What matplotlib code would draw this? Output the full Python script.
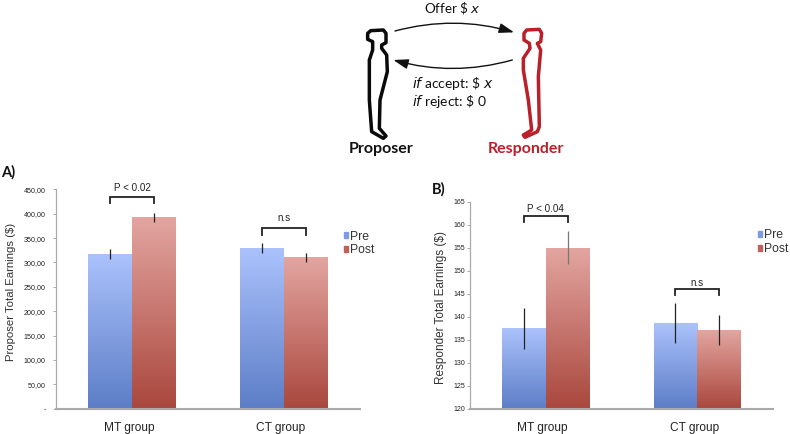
import numpy as np
import matplotlib
matplotlib.use("Agg")
import matplotlib.pyplot as plt
from matplotlib.colors import LinearSegmentedColormap
from matplotlib.patches import FancyArrowPatch, Patch, Polygon

groups = ["MT group", "CT group"]
series = ["Pre", "Post"]
proposer_pre = [317, 329]
proposer_post = [392, 310]
proposer_pre_err = [10, 10]
proposer_post_err = [9, 10]
responder_pre = [137.4, 138.6]
responder_post = [155.0, 137.1]
responder_pre_err = [4.5, 4.3]
responder_post_err = [3.6, 3.3]
proposer_ticks = list(range(0, 451, 50))
proposer_ticklabels = ["-"] + [f"{v},00" for v in proposer_ticks[1:]]
responder_ticks = list(range(120, 166, 5))

W, H = 790, 434
BAR = 0.2875
PRE = ("#ABC2FC", "#5C7DC6")
POST = ("#E3A5A0", "#A9473D")
SANS = "Liberation Sans"
HUM = "Lato"
plt.rcParams["font.family"] = SANS

fig = plt.figure(figsize=(W / 100, H / 100), dpi=100, facecolor="white")


def make_axes(x0, x1, ytop, ybot):
    return fig.add_axes([x0 / W, 1 - ybot / H, (x1 - x0) / W, (ybot - ytop) / H])


def gradient_bars(ax, xs, vals, base, cols):
    cmap = LinearSegmentedColormap.from_list("g", [cols[0], cols[1]])
    grad = np.linspace(0, 1, 256).reshape(-1, 1)
    for b in ax.bar(xs, np.array(vals) - base, BAR, bottom=base, color="none", linewidth=0):
        x, y = b.get_xy()
        ax.imshow(grad, cmap=cmap, aspect="auto", zorder=2,
                  extent=(x, x + b.get_width(), y, y + b.get_height()))


def panel(ax, pre, post, pre_err, post_err, ymin, ymax, ticks, ticklabels, ylabel, label_xy,
          ylabel_size, brackets, tick_size, tick_pad, post_err_colors):
    x = np.arange(len(groups), dtype=float)
    gradient_bars(ax, x - BAR / 2, pre, ymin, PRE)
    gradient_bars(ax, x + BAR / 2, post, ymin, POST)
    ax.errorbar(x - BAR / 2, pre, yerr=pre_err, fmt="none", ecolor="#222222", elinewidth=0.9, zorder=3)
    for xi, v, e, c in zip(x + BAR / 2, post, post_err, post_err_colors):
        ax.errorbar([xi], [v], yerr=[e], fmt="none", ecolor=c, elinewidth=0.9, zorder=3)
    ax.set_xlim(-0.5, 1.5)
    ax.set_ylim(ymin, ymax)
    ax.set_xticks(x - 0.02, groups)
    ax.set_yticks(ticks, ticklabels)
    ax.tick_params(axis="x", length=0, labelsize=8.6, pad=9.5, labelcolor="#222222")
    ax.tick_params(axis="y", length=2, width=0.7, color="#aaaaaa", labelsize=tick_size,
                   pad=tick_pad, labelcolor="#222222")
    ax.set_ylabel(ylabel, fontsize=ylabel_size, color="#333333")
    ax.yaxis.set_label_coords(*label_xy)
    for s in ("top", "right"):
        ax.spines[s].set_visible(False)
    ax.spines["left"].set_color("#aaaaaa")
    ax.spines["left"].set_linewidth(0.9)
    ax.spines["bottom"].set_color("#aaaaaa")
    ax.spines["bottom"].set_linewidth(1.5)
    for i, (top, bot, label, label_y) in enumerate(brackets):
        l, r = x[i] - BAR / 2, x[i] + BAR / 2
        ax.plot([l, l, r, r], [bot, top, top, bot], color="#222222", lw=1.3,
                clip_on=False, zorder=4, solid_joinstyle="miter")
        ax.text(x[i], label_y, label, ha="center", va="center", fontsize=7.1,
                color="#222222", clip_on=False)


ax_a = make_axes(56, 360, 189.3, 408.7)
panel(ax_a, proposer_pre, proposer_post, proposer_pre_err, proposer_post_err,
      0, 450, proposer_ticks, proposer_ticklabels, "Proposer Total Earnings ($)",
      (-0.132, 0.53), 8.2,
      [(433.5, 422, "P < 0.02", 453), (370.6, 356, "n.s", 391)], 5.1, 5.5, ["#222222"] * 2)

ax_b = make_axes(470, 773, 201.7, 408.7)
panel(ax_b, responder_pre, responder_post, responder_pre_err, responder_post_err,
      120, 165, responder_ticks, [str(v) for v in responder_ticks],
      "Responder Total Earnings ($)", (-0.0756, 0.489), 8.5,
      [(162.0, 160.65, "P < 0.04", 163.4), (146.1, 144.7, "n.s", 147.4)], 5.0, 1.5,
      ["#777777", "#222222"])

# Overlay in pixel coordinates for the schematic, panel letters and legends
ov = fig.add_axes([0, 0, 1, 1], facecolor="none")
ov.set_xlim(0, W)
ov.set_ylim(H, 0)
ov.axis("off")


def z(points):
    return [(330 + a / 3, b / 3) for a, b in points]


proposer_shape = [(122, 92), (160, 90), (168, 100), (168, 128), (155, 135), (155, 145), (170, 165),
                  (172, 215), (150, 300), (148, 385), (168, 408), (160, 415), (125, 395),
                  (118, 300), (118, 180), (128, 150), (128, 125), (113, 118), (113, 100)]
responder_shape = [(590, 90), (628, 88), (635, 100), (632, 125), (622, 130), (632, 150), (625, 230),
                   (628, 380), (622, 395), (585, 412), (580, 405), (605, 390), (595, 300),
                   (580, 210), (580, 175), (600, 145), (598, 130), (582, 120), (582, 100)]
ov.add_patch(Polygon(z(proposer_shape), closed=True, fill=False, ec="#0a0a0a", lw=2.5, joinstyle="round"))
ov.add_patch(Polygon(z(responder_shape), closed=True, fill=False, ec="#B9202A", lw=2.5, joinstyle="round"))

head = "-|>,head_length=9,head_width=3"
ov.add_patch(FancyArrowPatch(z([(195, 93)])[0], z([(552, 97)])[0], connectionstyle="arc3,rad=-0.14",
                             arrowstyle=head, color="#111111", lw=1, shrinkA=0, shrinkB=0))
ov.add_patch(FancyArrowPatch(z([(547, 180)])[0], z([(190, 180)])[0], connectionstyle="arc3,rad=-0.14",
                             arrowstyle=head, color="#111111", lw=1, shrinkA=0, shrinkB=0))

tk = dict(family=HUM, color="#111111", va="center")
ov.text(424, 8.5, "Offer \\$ $\\mathit{x}$", ha="left", fontsize=9.6, **tk)
ov.text(412.5, 83, "$\\mathit{if}$ accept: \\$ $\\mathit{x}$", ha="left", fontsize=10, **tk)
ov.text(412.5, 102, "$\\mathit{if}$ reject: \\$ 0", ha="left", fontsize=10, **tk)
ov.text(381, 148.5, "Proposer", family=HUM, weight="bold", fontsize=11.5, color="#111111", ha="center", va="center")
ov.text(526, 148.5, "Responder", family=HUM, weight="bold", fontsize=11.5, color="#B9202A", ha="center", va="center")
ov.text(1, 172.5, "A)", family=HUM, weight="bold", fontsize=10.5, color="#111111", va="center")
ov.text(432, 189, "B)", family=HUM, weight="bold", fontsize=10.5, color="#111111", va="center")

handles = [Patch(color="#7C9BE4"), Patch(color="#C0605A")]
for anchor in ((343.5, 230.5), (757.5, 229.5)):
    fig.legend(handles, series, loc="upper left", bbox_to_anchor=(anchor[0] / W, 1 - anchor[1] / H),
               frameon=False, fontsize=8.8, handlelength=0.4, handleheight=0.4, handletextpad=0.1,
               labelspacing=0.12, borderpad=0, borderaxespad=0, labelcolor="#333333")

fig.savefig("out.png", dpi=100)
